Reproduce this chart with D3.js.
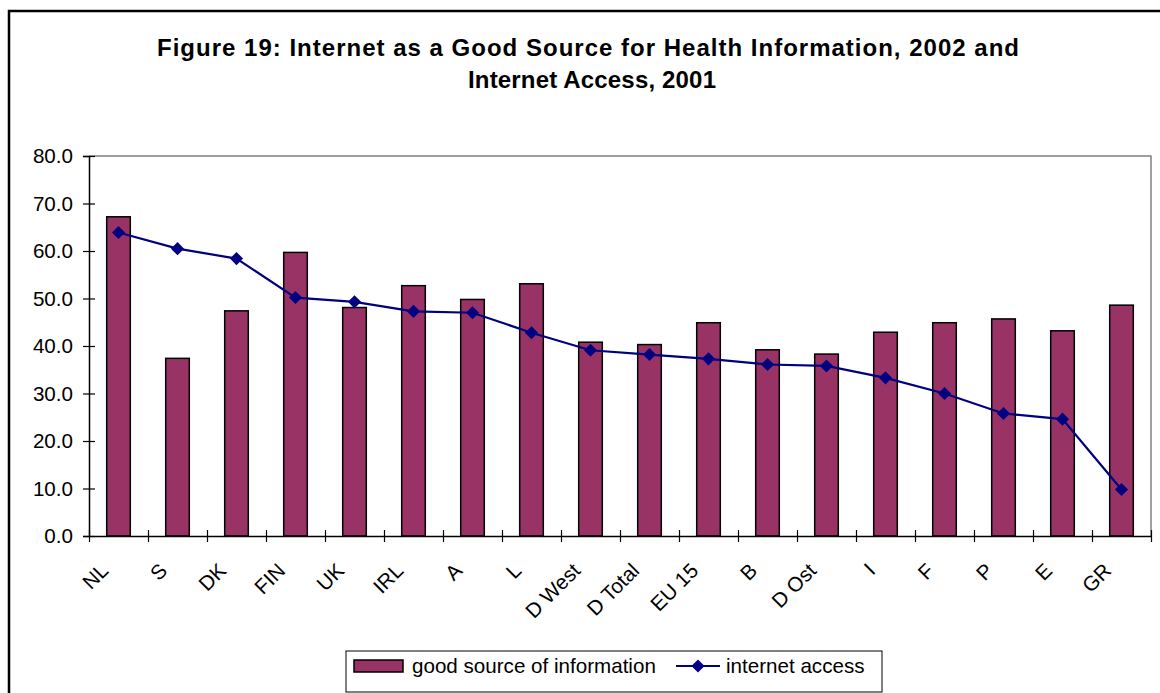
<!DOCTYPE html>
<html>
<head>
<meta charset="utf-8">
<script src="https://cdn.jsdelivr.net/npm/d3@7"></script>
<style>
  html, body { margin: 0; padding: 0; background: #fff; }
  svg { display: block; }
  text { font-family: "Liberation Sans", Arial, sans-serif; fill: #000; }
</style>
</head>
<body>
<svg id="chart" width="1160" height="693"></svg>
<script>
// ---- data ----
const categories = ["NL","S","DK","FIN","UK","IRL","A","L","D West","D Total","EU 15","B","D Ost","I","F","P","E","GR"];
const goodSource = [67.2,37.4,47.4,59.7,48.1,52.7,49.8,53.1,40.8,40.3,44.9,39.2,38.3,42.9,44.9,45.7,43.2,48.6];
const internetAccess = [63.9,60.5,58.4,50.2,49.3,47.3,47.0,42.8,39.1,38.2,37.3,36.1,35.8,33.3,30.0,25.8,24.6,9.8];
const yTicks = [0,10,20,30,40,50,60,70,80];
const titleLines = ["Figure 19: Internet as a Good Source for Health Information, 2002 and", "Internet Access, 2001"];
const seriesNames = ["good source of information", "internet access"];

// ---- layout ----
const svg = d3.select("#chart");
const plot = { left: 89, right: 1151, top: 156, bottom: 536 };
const barColor = "#993366";
const lineColor = "#000080";
const fs = 20.6;

svg.append("rect").attr("x", 0).attr("y", 0).attr("width", 1160).attr("height", 693).attr("fill", "#fff");
// outer chart border
svg.append("rect").attr("x", 9).attr("y", 11).attr("width", 1200).attr("height", 720)
  .attr("fill", "none").attr("stroke", "#000").attr("stroke-width", 2.5);

// title
const titleG = svg.append("g");
titleG.append("text").attr("x", 588).attr("y", 56).attr("text-anchor", "middle")
  .attr("font-size", 24).attr("font-weight", "bold")
  .attr("textLength", 862).attr("lengthAdjust", "spacing").text(titleLines[0]);
titleG.append("text").attr("x", 592).attr("y", 88).attr("text-anchor", "middle")
  .attr("font-size", 24).attr("font-weight", "bold")
  .attr("textLength", 248).attr("lengthAdjust", "spacing").text(titleLines[1]);

// scales
const x = d3.scaleBand().domain(categories).range([plot.left, plot.right]).padding(0);
const xIdx = d3.scaleLinear().domain([0, categories.length]).range([plot.left, plot.right]);
const y = d3.scaleLinear().domain([0, 80]).range([plot.bottom, plot.top]);
const bw = x.bandwidth();
const barW = bw * 0.4;

// plot border (top & right gray)
svg.append("path")
  .attr("d", `M${plot.left},${plot.top}H${plot.right}V${plot.bottom}`)
  .attr("fill", "none").attr("stroke", "#808080").attr("stroke-width", 1.5);

// bars
svg.append("g").selectAll("rect").data(categories).join("rect")
  .attr("x", d => x(d) + (bw - barW) / 2)
  .attr("y", (d, i) => y(goodSource[i]))
  .attr("width", barW)
  .attr("height", (d, i) => y(0) - y(goodSource[i]))
  .attr("fill", barColor).attr("stroke", "#000").attr("stroke-width", 1.5);

// y axis
const yAxis = svg.append("g").attr("transform", `translate(${plot.left},0)`)
  .call(d3.axisLeft(y).tickValues(yTicks).tickFormat(d => d.toFixed(1)).tickSize(6).tickPadding(10));
yAxis.select(".domain").attr("stroke", "#000").attr("stroke-width", 1.5);
yAxis.selectAll(".tick line").attr("x1", 6).attr("stroke", "#000").attr("stroke-width", 1.2);
yAxis.selectAll(".tick text").attr("font-size", fs).attr("font-family", "Liberation Sans, Arial, sans-serif");

// x axis: boundary ticks
const xAxis = svg.append("g").attr("transform", `translate(0,${plot.bottom})`)
  .call(d3.axisBottom(xIdx).tickValues(d3.range(categories.length + 1)).tickFormat("").tickSize(6).tickSizeOuter(0));
xAxis.select(".domain").attr("stroke", "#000").attr("stroke-width", 1.5);
xAxis.selectAll(".tick line").attr("y1", -6).attr("stroke", "#000").attr("stroke-width", 1.2);

// x labels
const xLab = svg.append("g").attr("transform", `translate(0,${plot.bottom})`)
  .call(d3.axisBottom(x).tickSize(0).tickSizeOuter(0));
xLab.select(".domain").remove();
xLab.selectAll(".tick text")
  .attr("font-size", fs).attr("font-family", "Liberation Sans, Arial, sans-serif")
  .attr("text-anchor", "end").attr("x", 0).attr("y", 0).attr("dy", 0)
  .attr("transform", "translate(-9,36) rotate(-45)");

// line
const line = d3.line().x((d, i) => x(categories[i]) + bw / 2).y(d => y(d));
svg.append("path").datum(internetAccess).attr("d", line)
  .attr("fill", "none").attr("stroke", lineColor).attr("stroke-width", 2.2);
const diamond = d3.symbol().type(d3.symbolDiamond2).size(110);
svg.append("g").selectAll("path").data(internetAccess).join("path")
  .attr("d", diamond)
  .attr("transform", (d, i) => `translate(${x(categories[i]) + bw / 2},${y(d)})`)
  .attr("fill", lineColor);

// legend
const lg = svg.append("g");
lg.append("rect").attr("x", 346).attr("y", 651).attr("width", 536).attr("height", 41)
  .attr("fill", "#fff").attr("stroke", "#000").attr("stroke-width", 1);
lg.append("rect").attr("x", 354).attr("y", 660).attr("width", 49).attr("height", 12)
  .attr("fill", barColor).attr("stroke", "#000").attr("stroke-width", 1.5);
lg.append("text").attr("x", 412).attr("y", 673).attr("font-size", fs).text(seriesNames[0]);
lg.append("line").attr("x1", 676).attr("x2", 720).attr("y1", 666).attr("y2", 666)
  .attr("stroke", lineColor).attr("stroke-width", 2);
lg.append("path").attr("d", diamond).attr("transform", "translate(698,666)").attr("fill", lineColor);
lg.append("text").attr("x", 726).attr("y", 673).attr("font-size", fs).text(seriesNames[1]);
</script>
</body>
</html>
